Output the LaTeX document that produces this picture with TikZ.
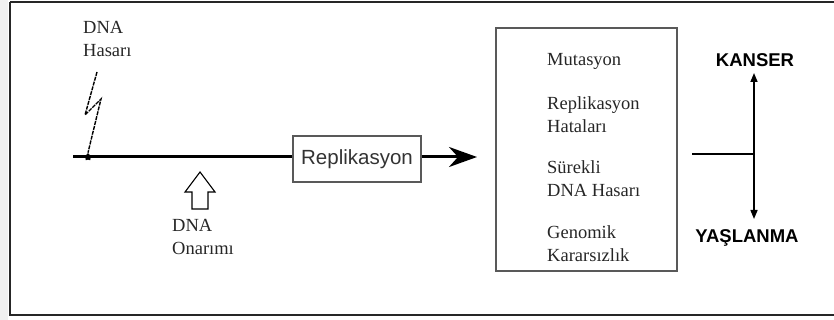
\documentclass[tikz,border=0pt]{standalone}
\usepackage{fontspec}
\setmainfont{Liberation Serif}
\newfontfamily\sansf{Liberation Sans}
\usetikzlibrary{arrows.meta,shapes.geometric}
\tikzset{
  serif/.style={font=\fontsize{18.5}{23}\selectfont, align=left, inner sep=0pt, text=black!85},
  boldlab/.style={font=\sansf\bfseries\fontsize{18.5}{20}\selectfont, inner sep=0pt},
  thickline/.style={line width=3pt},
  thinarrow/.style={line width=1.5pt, -{Triangle[length=9pt,width=7pt]}},
}
\begin{document}
\begin{tikzpicture}[x=1pt,y=-1pt]
\useasboundingbox (0,0) rectangle (834,320);
\fill[black!6] (0,0) rectangle (8,320);
\draw[line width=2.2pt, black!85] (10,2) -- (840,2);
\draw[line width=2.2pt, black!85] (10,2) -- (10,315) -- (840,315);
% main line
\coordinate (start) at (73,157);
\node[draw=black!65, line width=1.6pt, minimum width=128pt, minimum height=46pt, inner sep=0pt,
      font=\sansf\fontsize{20.5}{22}\selectfont, text=black!80] (rep) at (357,159) {Replikasyon};
\draw[thickline] (start) -- (start -| rep.west);
\coordinate (tip) at (477,157);
\draw[thickline, -{Stealth[length=28pt,width=20pt,inset=9pt]}] (rep.east |- start) -- (tip);
% damage mark
\node[star, star points=5, fill=black, inner sep=0pt, minimum size=8pt] (mark) at (88,157) {};
\coordinate (b1) at (97,72);
\coordinate (b2) at (85,115);
\coordinate (b3) at (101,99);
\draw[line width=1.4pt, dash pattern=on 4pt off 1pt] (b1) -- (b2) -- (b3) -- (mark.north);
\node[serif, anchor=north west] (hasar) at (83,21) {DNA\\Hasarı};
% hollow arrow
\draw[line width=1.1pt] (192,209) -- (208,209) -- (208,192) -- (215,192) -- (200,172) -- (185,192) -- (192,192) -- cycle;
\node[serif, anchor=north west] (onarim) at (172,219) {DNA\\Onarımı};
% big box
\draw[line width=1.6pt, black!65] (496,28) rectangle (677,271);
\node[serif, anchor=west] (mut) at (547,61) {Mutasyon};
\node[serif, anchor=west] (rh) at (547,115) {Replikasyon\\Hataları};
\node[serif, anchor=west] (sh) at (547,179) {Sürekli\\DNA Hasarı};
\node[serif, anchor=west] (gk) at (547,244) {Genomik\\Kararsızlık};
% right
\node[boldlab] (kanser) at (755,60) {KANSER};
\node[boldlab] (yas) at (747,238) {YAŞLANMA};
\coordinate (mid) at (754,154);
\coordinate (hl) at (692,154);
\draw[line width=1.3pt] (hl) -- (mid);
\draw[thinarrow] (mid) -- (754,73);
\draw[thinarrow] (mid) -- (754,219);
\end{tikzpicture}
\end{document}
